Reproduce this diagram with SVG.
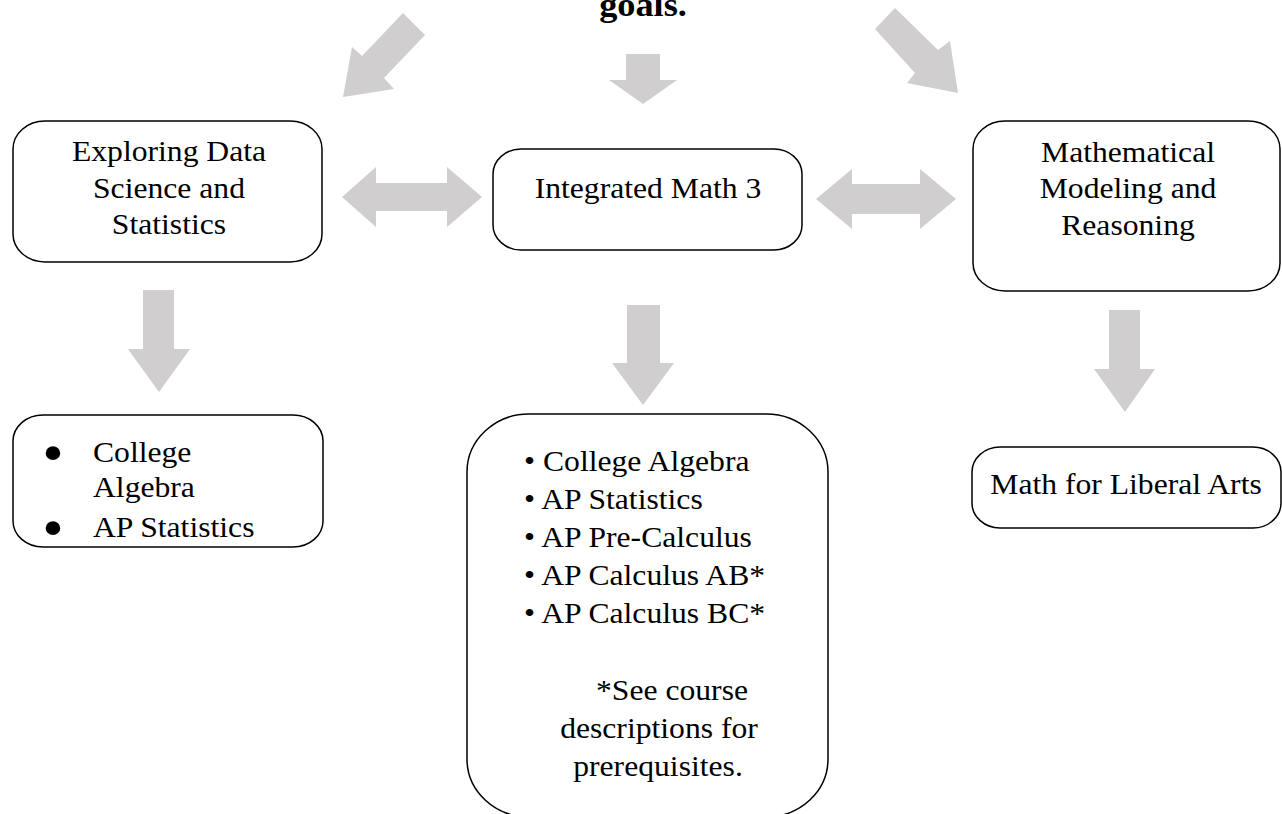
<svg xmlns="http://www.w3.org/2000/svg" width="1282" height="814" viewBox="0 0 1282 814">
<style>
.arrow{fill:#d0cece;stroke:none}
.box{fill:#fff;stroke:#000;stroke-width:1.5}
.t{font-family:"Liberation Serif","Times New Roman",serif;font-size:30px;fill:#000}
.c{text-anchor:middle}
.b{font-weight:bold;font-size:33px}
.bul{font-size:58px}
</style>
<rect width="1282" height="814" fill="#fff"/>
<g id="title">
<text class="t c b" transform="translate(643 16) scale(1.1 1)">goals.</text>
</g>
<g id="connectors">
<polygon class="arrow" points="403,13 425,35 384,78 394,89 343,97 352,47 362,56"/>
<polygon class="arrow" points="626,54 660,54 660,80 677,80 643,104 609,80 626,80"/>
<polygon class="arrow" points="895,8 938,50 950,41 958,93 907,83 915,73 875,29"/>
<polygon class="arrow" points="342,197 376,167 376,183 447,183 447,167 482,197 447,227 447,211 376,211 376,227"/>
<polygon class="arrow" points="816,199 852,169 852,184 920,184 920,169 956,199 920,229 920,214 852,214 852,229"/>
<polygon class="arrow" points="143,290 174,290 174,349 190,349 159,392 128,349 143,349"/>
<polygon class="arrow" points="627,305 660,305 660,363 674,363 643,405 612,363 627,363"/>
<polygon class="arrow" points="1109,310 1140,310 1140,369 1155,369 1125,412 1094,369 1109,369"/>
</g>
<g id="node-eds">
<rect class="box" x="13" y="121" width="309" height="141" rx="32" ry="28"/>
<text class="t c" transform="translate(169 161) scale(1.055 1)">Exploring Data</text>
<text class="t c" transform="translate(169 198) scale(1.055 1)">Science and</text>
<text class="t c" transform="translate(169 234) scale(1.055 1)">Statistics</text>
</g>
<g id="node-im3">
<rect class="box" x="493" y="149" width="309" height="101" rx="28" ry="25"/>
<text class="t c" transform="translate(648 198) scale(1.055 1)">Integrated Math 3</text>
</g>
<g id="node-mmr">
<rect class="box" x="973" y="121" width="307" height="170" rx="32" ry="28"/>
<text class="t c" transform="translate(1128 162) scale(1.055 1)">Mathematical</text>
<text class="t c" transform="translate(1128 198) scale(1.055 1)">Modeling and</text>
<text class="t c" transform="translate(1128 235) scale(1.055 1)">Reasoning</text>
</g>
<g id="node-eds-next">
<rect class="box" x="13" y="415" width="310" height="132" rx="30" ry="26"/>
<text class="t c bul" transform="translate(53 472) scale(1.055 1)">•</text>
<text class="t" transform="translate(93 462) scale(1.055 1)">College</text>
<text class="t" transform="translate(93 497) scale(1.055 1)">Algebra</text>
<text class="t c bul" transform="translate(53 547) scale(1.055 1)">•</text>
<text class="t" transform="translate(93 537) scale(1.055 1)">AP Statistics</text>
</g>
<g id="node-im3-next">
<rect class="box" x="467" y="414" width="361" height="403" rx="62" ry="58"/>
<text class="t" transform="translate(524 471) scale(1.055 1)">• College Algebra</text>
<text class="t" transform="translate(524 509) scale(1.055 1)">• AP Statistics</text>
<text class="t" transform="translate(524 547) scale(1.055 1)">• AP Pre-Calculus</text>
<text class="t" transform="translate(524 585) scale(1.055 1)">• AP Calculus AB*</text>
<text class="t" transform="translate(524 623) scale(1.055 1)">• AP Calculus BC*</text>
<text class="t c" transform="translate(672 700) scale(1.055 1)">*See course</text>
<text class="t c" transform="translate(659 738) scale(1.055 1)">descriptions for</text>
<text class="t c" transform="translate(658 776) scale(1.055 1)">prerequisites.</text>
</g>
<g id="node-mmr-next">
<rect class="box" x="972" y="447" width="309" height="81" rx="28" ry="25"/>
<text class="t c" transform="translate(1126 494) scale(1.055 1)">Math for Liberal Arts</text>
</g>
</svg>
